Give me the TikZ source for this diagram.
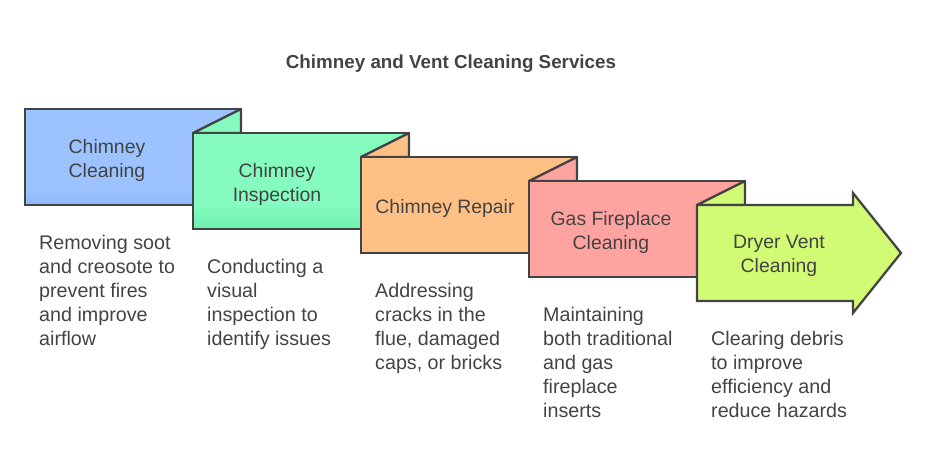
\documentclass[tikz,border=0pt]{standalone}
\usepackage{fontspec}
\setmainfont{Liberation Sans}
\definecolor{ink}{HTML}{434343}
\definecolor{boxblue}{HTML}{9CC2FF}
\definecolor{boxbluelow}{HTML}{90B8FC}
\definecolor{boxgreen}{HTML}{85FBC0}
\definecolor{boxgreenlow}{HTML}{70F0B2}
\definecolor{boxorange}{HTML}{FFC085}
\definecolor{boxred}{HTML}{FFA3A0}
\definecolor{boxlime}{HTML}{D1FA75}
\tikzset{
  panel/.style={draw=ink,line width=2.3pt,line join=bevel,fill=#1},
  head/.style={text=ink,font=\fontsize{19.4}{24}\selectfont,align=center},
  body/.style={text=ink,font=\fontsize{19.7}{24}\selectfont,align=left,anchor=north west,inner sep=0pt},
}
\begin{document}
\begin{tikzpicture}[x=1pt,y=-1pt]
\useasboundingbox (0,0) rectangle (927,470);
\node[text=ink,font=\fontsize{18.8}{24}\selectfont\bfseries] (title) at (451,63.5) {Chimney and Vent Cleaning Services};
\foreach \i/\col/\nxt in {0/boxblue/boxgreen,1/boxgreen/boxorange,2/boxorange/boxred,3/boxred/boxlime} {
  \begin{scope}[shift={(168*\i,24*\i)}]
  \draw[panel=\col,line join=miter] (25,109) rectangle (241,205);
  \draw[panel=\nxt] (193,133) -- (241,109) -- (241,133) -- cycle;
  \end{scope}
}
% lower edge of the first two panels
\fill[top color=boxblue,bottom color=boxbluelow] (26.15,190) rectangle (191.85,203.85);
\fill[top color=boxgreen,bottom color=boxgreenlow] (194.15,205) rectangle (359.85,227.85);
\draw[panel=boxlime,line join=miter] (697,205) -- (853,205) -- (853,193) -- (901,253) -- (853,313) -- (853,301) -- (697,301) -- cycle;
\node[head] (cleaning) at (107,160) {Chimney\\Cleaning};
\node[head] (inspection) at (277,184) {Chimney\\Inspection};
\node[head] (repair) at (445,208) {Chimney Repair};
\node[head] (fireplace) at (611,232) {Gas Fireplace\\Cleaning};
\node[head] (dryer) at (779,256) {Dryer Vent\\Cleaning};
\node[body] (cleaningtext) at (39,235) {Removing soot\\and creosote to\\prevent fires\\and improve\\airflow};
\node[body] (inspectiontext) at (207,259) {Conducting a\\visual\\inspection to\\identify issues};
\node[body] (repairtext) at (375,283) {Addressing\\cracks in the\\flue, damaged\\caps, or bricks};
\node[body] (fireplacetext) at (543,307) {Maintaining\\both traditional\\and gas\\fireplace\\inserts};
\node[body] (dryertext) at (711,331) {Clearing debris\\to improve\\efficiency and\\reduce hazards};
\end{tikzpicture}
\end{document}
